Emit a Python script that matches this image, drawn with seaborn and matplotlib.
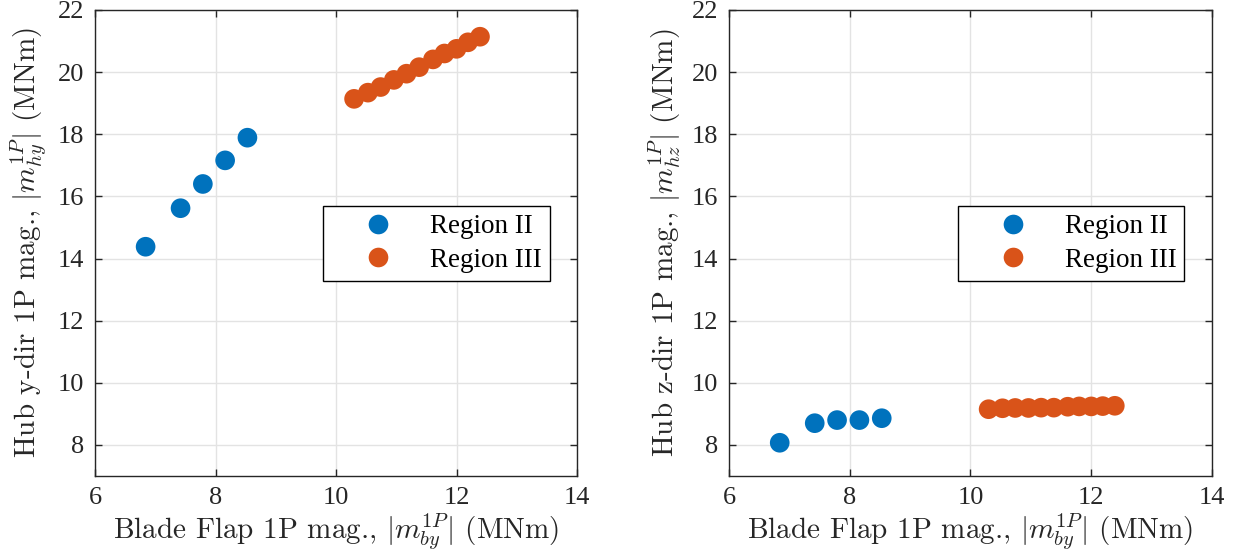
import numpy as np
import pandas as pd
import matplotlib
matplotlib.use("Agg")
import matplotlib.pyplot as plt
from matplotlib import font_manager
import seaborn as sns

# Blade flap 1P magnitude (MNm) for each operating point
flap_region2 = [6.84, 7.42, 7.79, 8.16, 8.53]
flap_region3 = [10.30, 10.53, 10.74, 10.96, 11.17, 11.38, 11.61, 11.80, 12.00, 12.19, 12.39]

# Hub y-direction 1P magnitude (MNm)
hub_y_region2 = [14.38, 15.62, 16.40, 17.16, 17.89]
hub_y_region3 = [19.14, 19.34, 19.52, 19.75, 19.95, 20.16, 20.41, 20.60, 20.75, 20.96, 21.14]

# Hub z-direction 1P magnitude (MNm)
hub_z_region2 = [8.07, 8.70, 8.80, 8.80, 8.86]
hub_z_region3 = [9.15, 9.18, 9.19, 9.19, 9.20, 9.20, 9.23, 9.24, 9.24, 9.25, 9.26]

region_names = ["Region II", "Region III"]
region_colors = ["#0072BD", "#D95319"]

x_ticks = [6, 8, 10, 12, 14]
y_ticks = [8, 10, 12, 14, 16, 18, 20, 22]

df = pd.DataFrame({
    "flap": flap_region2 + flap_region3,
    "hub_y": hub_y_region2 + hub_y_region3,
    "hub_z": hub_z_region2 + hub_z_region3,
    "region": [region_names[0]] * len(flap_region2) + [region_names[1]] * len(flap_region3),
})

sns.set_theme(style="white")

# Times-like serif for ticks and legend, Computer Modern for the axis labels
installed = {f.name for f in font_manager.fontManager.ttflist}
serif_choice = [n for n in ["Liberation Serif", "Tinos", "Nimbus Roman", "STIX Two Text",
                            "Times New Roman"] if n in installed]
plt.rcParams["font.family"] = serif_choice + ["DejaVu Serif"]
plt.rcParams["mathtext.fontset"] = "cm"
label_family = ["cmr10", "DejaVu Serif"]

fig = plt.figure(figsize=(12.37, 5.6), dpi=100)
W, H = 1237, 560
ax1 = fig.add_axes([95 / W, (H - 476) / H, 482 / W, 466 / H])
ax2 = fig.add_axes([729 / W, (H - 476) / H, 483 / W, 466 / H])

xlabel = r"Blade Flap 1P mag., $|m_{by}^{1P}|$ (MNm)"
ylabels = [
    r"Hub y-dir 1P mag., $|m_{hy}^{1P}|$ (MNm)",
    r"Hub z-dir 1P mag., $|m_{hz}^{1P}|$ (MNm)",
]

for ax, ycol, ylab in zip([ax1, ax2], ["hub_y", "hub_z"], ylabels):
    sns.scatterplot(data=df, x="flap", y=ycol, hue="region",
                    hue_order=region_names, palette=region_colors,
                    s=200, linewidth=0, edgecolor="none", ax=ax, zorder=3)
    ax.set_xlim(6, 14)
    ax.set_ylim(7, 22)
    ax.set_xticks(x_ticks)
    ax.set_yticks(y_ticks)
    ax.grid(True, color="#e3e3e3", linewidth=1.0, zorder=0)
    ax.set_axisbelow(True)
    for sp in ax.spines.values():
        sp.set_color("#262626")
        sp.set_linewidth(1.0)
    ax.tick_params(direction="in", length=5, width=1.0, colors="#262626",
                   labelsize=19, top=True, right=True, bottom=True, left=True,
                   labelcolor="#262626", pad=8)
    ax.set_xlabel(xlabel, fontsize=21, color="#262626", labelpad=2,
                  family=label_family)
    ax.set_ylabel(ylab, fontsize=21, color="#262626", labelpad=6,
                  family=label_family)

    handles, labels = ax.get_legend_handles_labels()
    leg = ax.legend(handles, labels, loc="center",
                    bbox_to_anchor=(0.708, 0.499), frameon=True,
                    fancybox=False, framealpha=1, edgecolor="#000000",
                    fontsize=19.5, handletextpad=0.15, borderpad=0.3,
                    labelspacing=0.3, handlelength=3.5, borderaxespad=0)
    leg.get_frame().set_linewidth(1.0)
    for t in leg.get_texts():
        t.set_color("#000000")

fig.savefig("out.png", dpi=100)
